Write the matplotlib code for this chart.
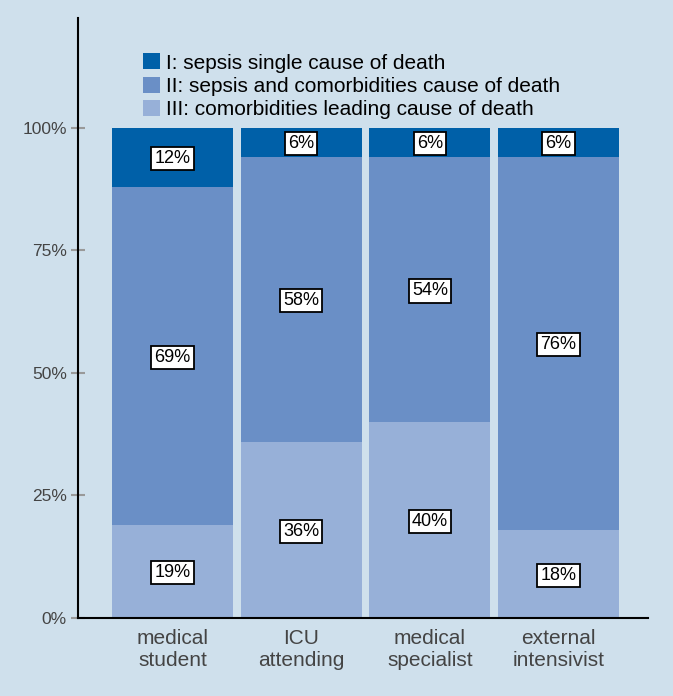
import numpy as np
import matplotlib.pyplot as plt

plt.rcParams['font.family'] = ['Liberation Sans', 'DejaVu Sans']

groups = ["medical\nstudent", "ICU\nattending", "medical\nspecialist", "external\nintensivist"]
comorb = [19, 36, 40, 18]      # III
both = [69, 58, 54, 76]        # II
sepsis = [12, 6, 6, 6]         # I
labels = ["I: sepsis single cause of death",
          "II: sepsis and comorbidities cause of death",
          "III: comorbidities leading cause of death"]
colors = ["#0060a8", "#6a8fc6", "#97b0d8"]
bg = "#cfe0ec"

fig = plt.figure(figsize=(6.73, 6.96), dpi=100, facecolor=bg)
ax = fig.add_axes([0.1159, 0.1121, 0.847, 0.862], facecolor=bg)

x = np.arange(len(groups))
w = 0.94
b1 = ax.bar(x, comorb, w, color=colors[2], label=labels[2])
b2 = ax.bar(x, both, w, bottom=comorb, color=colors[1], label=labels[1])
bot3 = np.array(comorb) + np.array(both)
b3 = ax.bar(x, sepsis, w, bottom=bot3, color=colors[0], label=labels[0])

box = dict(boxstyle="square,pad=0.17", fc="white", ec="black", lw=1.3)
for bars, vals, bots in [(b1, comorb, [0]*4), (b2, both, comorb), (b3, sepsis, bot3)]:
    for xi, v, b in zip(x, vals, bots):
        ax.annotate(f"{v}%", (xi, b + v / 2), xytext=(0, -1), textcoords="offset points",
                    ha="center", va="center", fontsize=13, bbox=box)

ax.set_xlim(-0.735, 3.696)
ax.set_ylim(0, 122.4)
ax.set_yticks([0, 25, 50, 75, 100])
ax.set_yticklabels(["0%", "25%", "50%", "75%", "100%"])
ax.set_xticks(x)
ax.set_xticklabels(groups)
ax.tick_params(axis="y", direction="inout", length=10, width=1.5, color="#999999",
               labelcolor="#444444", labelsize=12.5, pad=3)
ax.tick_params(axis="x", length=0, labelcolor="#444444", labelsize=15, pad=8)
for s in ["top", "right"]:
    ax.spines[s].set_visible(False)
for s in ["left", "bottom"]:
    ax.spines[s].set_linewidth(1.5)
    ax.spines[s].set_zorder(3)

h, l = ax.get_legend_handles_labels()
ax.legend(h[::-1], l[::-1], loc="upper left", bbox_to_anchor=(0.1, 0.955), frameon=False,
          fontsize=15, handlelength=0.8, handleheight=0.8, handletextpad=0.3,
          labelspacing=0.2, borderaxespad=0)

fig.savefig("out.png", dpi=100, facecolor=bg)
